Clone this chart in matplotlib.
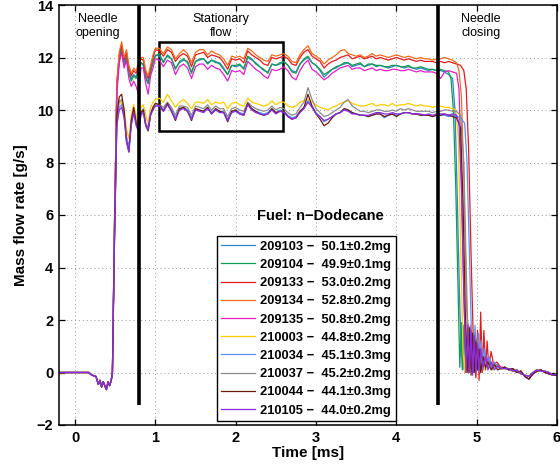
import matplotlib
matplotlib.use("Agg")
import matplotlib.pyplot as plt
from matplotlib.patches import Rectangle

plt.rcParams['font.family'] = ['Liberation Sans', 'DejaVu Sans']

# ---------------- data ----------------
labels = ["209103 \u2212  50.1\u00b10.2mg", "209104 \u2212  49.9\u00b10.1mg",
          "209133 \u2212  53.0\u00b10.2mg", "209134 \u2212  52.8\u00b10.2mg",
          "209135 \u2212  50.8\u00b10.2mg", "210003 \u2212  44.8\u00b10.2mg",
          "210034 \u2212  45.1\u00b10.3mg", "210037 \u2212  45.2\u00b10.2mg",
          "210044 \u2212  44.1\u00b10.3mg", "210105 \u2212  44.0\u00b10.2mg"]
colors = ['#2e86c1', '#0f9a55', '#e41a1c', '#f26b1d', '#e01fc9',
          '#ffcc00', '#5b8ff9', '#8c8c8c', '#6b1a0a', '#8a2be2']

# before needle opening (shared by all injections)
T_PRE = [-0.2, 0.17, 0.21, 0.26, 0.29, 0.31, 0.33, 0.35, 0.37, 0.39, 0.41, 0.43, 0.45]
V_PRE = [0.0, 0.0, -0.1, -0.15, -0.45, -0.3, -0.55, -0.35, -0.5, -0.65, -0.35, -0.5, -0.3]

# needle opening
T_RISE = [0.465, 0.49, 0.52, 0.55, 0.58, 0.61, 0.64, 0.67, 0.70, 0.73, 0.76, 0.79,
          0.82, 0.85, 0.88, 0.91, 0.94, 0.97]
R_209103 = [0.1, 5.4, 10.9, 11.95, 12.35, 11.75, 12.05, 11.45, 11.2, 11.35, 11.25, 11.55, 11.8, 11.7, 11.3, 11.05, 11.5, 11.8]
R_209104 = [0.0, 5.6, 10.8, 11.9, 12.3, 11.7, 12.0, 11.4, 11.1, 11.3, 11.2, 11.5, 11.8, 11.75, 11.2, 11.0, 11.45, 11.8]
R_209133 = [0.0, 5.3, 11.0, 12.1, 12.5, 11.9, 12.2, 11.6, 11.3, 11.5, 11.4, 11.7, 11.95, 11.9, 11.45, 11.2, 11.6, 12.0]
R_209134 = [0.0, 5.6, 11.1, 12.2, 12.6, 12.0, 12.3, 11.7, 11.4, 11.6, 11.5, 11.8, 12.0, 12.0, 11.5, 11.3, 11.7, 12.1]
R_209135 = [0.0, 5.2, 10.6, 11.8, 12.2, 11.6, 11.9, 11.2, 10.9, 11.1, 10.9, 10.6, 11.6, 11.6, 11.0, 10.6, 11.3, 11.6]
R_210003 = [0.0, 4.8, 9.7, 10.4, 10.2, 10.1, 9.3, 8.9, 9.8, 10.2, 9.8, 9.5, 10.1, 10.2, 9.8, 9.5, 10.1, 10.3]
R_210034 = [0.0, 5.1, 9.5, 10.1, 10.2, 9.8, 9.0, 8.6, 9.5, 9.95, 9.5, 9.25, 9.85, 9.95, 9.45, 9.3, 9.85, 10.05]
R_210037 = [-0.1, 5.2, 9.6, 10.3, 10.4, 9.9, 8.9, 8.5, 9.6, 10.0, 9.6, 9.3, 9.9, 10.05, 9.5, 9.35, 9.9, 10.1]
R_210044 = [0.0, 4.9, 9.8, 10.5, 10.6, 10.0, 8.8, 8.4, 9.6, 10.1, 9.5, 9.2, 9.9, 10.0, 9.4, 9.2, 9.8, 10.1]
R_210105 = [-0.1, 4.9, 9.4, 10.0, 10.1, 9.7, 8.8, 8.4, 9.4, 9.9, 9.4, 9.2, 9.8, 9.9, 9.4, 9.25, 9.8, 10.0]

# stationary flow, 1.00 ... 4.50 ms
T_STAT = [1.00, 1.05, 1.10, 1.15, 1.20, 1.25, 1.30, 1.35, 1.40, 1.45, 1.50, 1.55, 1.60, 1.65,
          1.70, 1.75, 1.80, 1.85, 1.90, 1.95, 2.00, 2.05, 2.10, 2.15, 2.20, 2.25, 2.30, 2.35,
          2.40, 2.45, 2.50, 2.55, 2.60, 2.65, 2.70, 2.75, 2.80, 2.85, 2.90, 2.95, 3.00, 3.05,
          3.10, 3.15, 3.20, 3.25, 3.30, 3.35, 3.40, 3.45, 3.50, 3.55, 3.60, 3.65, 3.70, 3.75,
          3.80, 3.85, 3.90, 3.95, 4.00, 4.05, 4.10, 4.15, 4.20, 4.25, 4.30, 4.35, 4.40, 4.45, 4.50]
S_209103 = [12.10, 12.05, 11.85, 12.05, 11.95, 11.60, 11.80, 11.90, 11.85, 11.45, 11.85, 11.90, 11.95, 11.80,
            11.90, 11.80, 11.80, 11.60, 11.35, 11.70, 11.65, 11.70, 11.60, 12.00, 11.90, 11.80, 11.65, 11.50,
            11.45, 11.75, 11.70, 11.75, 11.85, 11.70, 11.50, 11.45, 11.75, 11.90, 12.00, 11.80, 11.70, 11.50,
            11.25, 11.40, 11.55, 11.60, 11.70, 11.75, 11.80, 11.65, 11.70, 11.75, 11.65, 11.70, 11.75, 11.65,
            11.70, 11.65, 11.60, 11.65, 11.70, 11.65, 11.60, 11.65, 11.60, 11.55, 11.60, 11.55, 11.50, 11.55, 11.50]
S_209104 = [12.05, 12.15, 11.80, 12.10, 11.95, 11.55, 11.85, 11.95, 11.80, 11.40, 11.85, 11.95, 11.95, 11.75,
            11.90, 11.85, 11.75, 11.55, 11.35, 11.70, 11.70, 11.75, 11.55, 12.05, 11.95, 11.75, 11.65, 11.55,
            11.40, 11.75, 11.70, 11.80, 11.85, 11.70, 11.45, 11.40, 11.75, 11.95, 12.05, 11.80, 11.70, 11.55,
            11.35, 11.45, 11.55, 11.65, 11.70, 11.80, 11.80, 11.70, 11.75, 11.80, 11.65, 11.75, 11.75, 11.70,
            11.70, 11.65, 11.65, 11.70, 11.70, 11.65, 11.65, 11.70, 11.60, 11.60, 11.65, 11.60, 11.55, 11.55, 11.50]
S_209133 = [12.30, 12.25, 12.05, 12.30, 12.20, 11.85, 12.05, 12.15, 12.05, 11.65, 12.10, 12.15, 12.20, 12.00,
            12.10, 12.05, 12.00, 11.80, 11.55, 11.95, 11.90, 11.95, 11.80, 12.25, 12.10, 12.00, 11.90, 11.75,
            11.70, 12.00, 11.95, 12.00, 12.05, 11.95, 11.75, 11.70, 12.00, 12.20, 12.30, 12.05, 11.95, 11.85,
            11.60, 11.75, 11.85, 11.90, 12.00, 12.05, 12.10, 11.95, 12.00, 12.05, 11.95, 12.00, 12.05, 11.95,
            12.00, 11.95, 11.90, 11.95, 12.00, 11.95, 11.90, 11.95, 11.90, 11.85, 11.90, 11.85, 11.85, 11.85, 11.80]
S_209134 = [12.35, 12.35, 12.15, 12.40, 12.30, 11.95, 12.15, 12.30, 12.15, 11.80, 12.20, 12.30, 12.30, 12.10,
            12.25, 12.15, 12.10, 11.95, 11.70, 12.05, 12.00, 12.05, 11.95, 12.35, 12.25, 12.10, 12.00, 11.90,
            11.85, 12.10, 12.05, 12.10, 12.15, 12.05, 11.85, 11.80, 12.10, 12.30, 12.45, 12.15, 12.05, 11.95,
            11.75, 11.90, 12.00, 12.10, 12.25, 12.30, 12.15, 12.10, 12.05, 12.10, 12.00, 12.05, 12.15, 12.05,
            12.10, 12.05, 12.00, 12.05, 12.10, 12.05, 12.00, 12.05, 12.00, 11.95, 12.00, 11.95, 11.95, 11.90, 11.95]
S_209135 = [11.95, 11.90, 11.65, 11.90, 11.80, 11.35, 11.65, 11.75, 11.60, 11.20, 11.65, 11.75, 11.75, 11.55,
            11.70, 11.60, 11.55, 11.35, 11.10, 11.50, 11.45, 11.50, 11.35, 11.85, 11.70, 11.55, 11.45, 11.30,
            11.20, 11.55, 11.50, 11.55, 11.65, 11.50, 11.25, 11.15, 11.50, 11.75, 11.90, 11.55, 11.45, 11.30,
            11.15, 11.25, 11.40, 11.50, 11.60, 11.65, 11.70, 11.55, 11.60, 11.60, 11.50, 11.55, 11.60, 11.50,
            11.55, 11.50, 11.50, 11.55, 11.55, 11.50, 11.50, 11.55, 11.50, 11.45, 11.50, 11.45, 11.45, 11.45, 11.40]
S_210003 = [10.40, 10.45, 10.30, 10.60, 10.35, 10.10, 10.30, 10.40, 10.25, 10.05, 10.30, 10.30, 10.25, 10.40,
            10.20, 10.30, 10.25, 10.30, 10.05, 10.25, 10.30, 10.20, 10.15, 10.45, 10.30, 10.25, 10.20, 10.15,
            10.20, 10.35, 10.20, 10.30, 10.30, 10.15, 10.10, 10.15, 10.30, 10.35, 10.40, 10.30, 10.20, 10.10,
            10.05, 10.00, 10.10, 10.15, 10.25, 10.30, 10.35, 10.25, 10.20, 10.15, 10.15, 10.20, 10.25, 10.15,
            10.20, 10.20, 10.15, 10.25, 10.15, 10.20, 10.20, 10.25, 10.20, 10.15, 10.20, 10.15, 10.15, 10.10, 10.15]
S_210034 = [10.15, 10.20, 10.00, 10.25, 10.00, 9.70, 10.05, 10.10, 10.00, 9.70, 10.05, 10.00, 9.95, 10.10,
            9.90, 10.05, 9.95, 9.95, 9.65, 9.95, 10.00, 9.90, 9.85, 10.25, 10.05, 9.95, 9.90, 9.85,
            9.90, 10.05, 9.90, 10.00, 9.95, 9.80, 9.70, 9.75, 9.95, 10.10, 10.35, 10.15, 9.90, 9.75,
            9.55, 9.65, 9.75, 9.85, 9.90, 10.05, 10.00, 9.90, 9.85, 9.80, 9.80, 9.75, 9.80, 9.85,
            9.85, 9.70, 9.80, 9.85, 9.80, 9.85, 9.90, 9.90, 9.85, 9.85, 9.80, 9.80, 9.80, 9.75, 9.80]
S_210037 = [10.25, 10.20, 10.10, 10.30, 10.10, 9.80, 10.15, 10.15, 10.10, 9.80, 10.15, 10.10, 10.05, 10.20,
            10.00, 10.15, 10.05, 10.05, 9.75, 10.05, 10.10, 10.00, 9.95, 10.30, 10.15, 10.05, 10.00, 9.95,
            10.00, 10.15, 10.00, 10.10, 10.05, 9.90, 9.80, 9.85, 10.10, 10.30, 10.85, 10.40, 10.05, 9.90,
            9.75, 9.80, 9.90, 10.00, 10.10, 10.30, 10.40, 10.15, 10.05, 9.95, 9.95, 9.90, 9.95, 10.00,
            10.00, 9.95, 9.95, 10.00, 9.95, 10.05, 10.00, 10.05, 10.00, 9.95, 9.95, 9.95, 9.95, 9.90, 9.95]
S_210044 = [10.25, 10.20, 9.95, 10.25, 9.95, 9.60, 10.05, 10.10, 9.95, 9.60, 10.05, 10.00, 9.95, 10.10,
            9.85, 10.05, 9.95, 9.90, 9.55, 9.95, 10.00, 9.85, 9.80, 10.25, 10.05, 9.95, 9.85, 9.80,
            9.85, 10.05, 9.90, 9.95, 9.95, 9.75, 9.65, 9.70, 9.95, 10.10, 10.60, 10.15, 9.85, 9.65,
            9.40, 9.50, 9.70, 9.85, 9.90, 10.05, 10.00, 9.90, 9.85, 9.80, 9.80, 9.75, 9.80, 9.85,
            9.85, 9.75, 9.80, 9.85, 9.75, 9.85, 9.90, 9.90, 9.85, 9.85, 9.80, 9.80, 9.80, 9.75, 9.80]
S_210105 = [10.15, 10.15, 9.95, 10.20, 9.95, 9.65, 10.00, 10.05, 9.95, 9.65, 10.00, 9.95, 9.90, 10.05,
            9.85, 10.00, 9.90, 9.90, 9.60, 9.90, 9.95, 9.85, 9.80, 10.20, 10.00, 9.90, 9.85, 9.80,
            9.85, 10.00, 9.85, 9.95, 9.90, 9.75, 9.65, 9.70, 9.90, 10.05, 10.30, 10.10, 9.85, 9.75,
            9.60, 9.65, 9.75, 9.85, 9.90, 10.00, 9.95, 9.85, 9.85, 9.80, 9.80, 9.80, 9.85, 9.90,
            9.90, 9.85, 9.85, 9.90, 9.85, 9.85, 9.90, 9.90, 9.85, 9.85, 9.85, 9.80, 9.85, 9.80, 9.85]

# needle closing (own time base per injection)
CT_209103 = [4.55, 4.60, 4.65, 4.70, 4.73, 4.76, 4.79, 4.82, 4.84, 4.86, 4.88, 4.90, 4.92, 4.94, 4.96, 4.98, 5.00, 5.03, 5.06, 5.09, 5.12, 5.16, 5.20, 5.25, 5.30]
CV_209103 = [11.5, 11.45, 11.35, 11.2, 10.0, 6.5, 2.5, 0.1, 1.8, 0.0, 1.6, 0.2, 1.3, 0.1, 1.1, 0.3, 0.9, 0.2, 0.7, 0.2, 0.5, 0.3, 0.2, 0.3, 0.15]
CT_209104 = [4.55, 4.60, 4.65, 4.68, 4.71, 4.74, 4.77, 4.79, 4.81, 4.83, 4.85, 4.87, 4.89, 4.91, 4.93, 4.95, 4.97, 4.99, 5.02, 5.05, 5.08, 5.11, 5.15, 5.20, 5.25, 5.30]
CV_209104 = [11.55, 11.5, 11.45, 11.2, 10.0, 7.0, 3.0, 0.2, 1.9, 0.1, 1.8, 0.3, 1.5, 0.2, 1.2, 0.3, 0.9, 0.2, 0.7, 0.3, 0.5, 0.2, 0.4, 0.15, 0.25, 0.15]
CT_209133 = [4.55, 4.60, 4.65, 4.70, 4.75, 4.80, 4.84, 4.87, 4.90, 4.93, 4.96, 4.99, 5.01, 5.03, 5.05, 5.07, 5.09, 5.11, 5.13, 5.15, 5.18, 5.21, 5.25, 5.30]
CV_209133 = [11.85, 11.8, 11.85, 11.8, 11.75, 11.7, 11.5, 10.8, 8.5, 4.5, 1.0, -0.2, 1.6, -0.3, 2.3, 0.0, 1.6, 0.1, 1.2, 0.2, 0.8, 0.3, 0.4, 0.2]
CT_209134 = [4.55, 4.60, 4.65, 4.70, 4.75, 4.78, 4.81, 4.84, 4.87, 4.90, 4.92, 4.94, 4.96, 4.98, 5.00, 5.02, 5.04, 5.07, 5.10, 5.13, 5.16, 5.20, 5.25, 5.30]
CV_209134 = [11.95, 12.0, 11.95, 11.9, 11.8, 11.5, 10.5, 7.5, 3.0, 0.0, 1.8, 0.2, 1.6, 0.1, 1.3, 0.2, 1.0, 0.3, 0.7, 0.2, 0.5, 0.3, 0.2, 0.15]
CT_209135 = [4.55, 4.60, 4.65, 4.70, 4.75, 4.78, 4.81, 4.84, 4.87, 4.89, 4.91, 4.93, 4.95, 4.97, 4.99, 5.01, 5.03, 5.06, 5.09, 5.12, 5.16, 5.20, 5.25, 5.30]
CV_209135 = [11.2, 11.45, 11.5, 11.45, 11.4, 10.8, 7.5, 3.0, 0.0, 1.9, 0.1, 1.7, 0.2, 1.4, 0.1, 1.1, 0.2, 0.8, 0.2, 0.6, 0.3, 0.2, 0.3, 0.15]
CT_210003 = [4.55, 4.60, 4.65, 4.70, 4.74, 4.77, 4.80, 4.83, 4.85, 4.87, 4.89, 4.91, 4.93, 4.95, 4.97, 5.00, 5.03, 5.06, 5.09, 5.12, 5.16, 5.20, 5.25, 5.30]
CV_210003 = [10.15, 10.1, 10.1, 10.05, 10.0, 9.0, 5.0, 0.8, 0.0, 1.7, 0.1, 1.5, 0.2, 1.1, 0.1, 0.8, 0.2, 0.6, 0.1, 0.4, 0.2, 0.1, 0.25, 0.15]
CT_210034 = [4.55, 4.60, 4.65, 4.70, 4.75, 4.80, 4.85, 4.88, 4.91, 4.94, 4.96, 4.98, 5.00, 5.02, 5.04, 5.06, 5.08, 5.10, 5.13, 5.16, 5.19, 5.22, 5.26, 5.30]
CV_210034 = [9.8, 9.8, 9.75, 9.8, 9.75, 9.7, 9.5, 8.0, 4.5, 0.8, 0.0, 1.8, 0.1, 1.5, 0.0, 1.2, 0.1, 0.9, 0.2, 0.6, 0.1, 0.4, 0.2, 0.15]
CT_210037 = [4.55, 4.60, 4.65, 4.70, 4.75, 4.80, 4.84, 4.87, 4.90, 4.92, 4.94, 4.96, 4.98, 5.00, 5.02, 5.04, 5.07, 5.10, 5.13, 5.16, 5.20, 5.25, 5.30]
CV_210037 = [9.95, 10.0, 10.0, 9.95, 9.95, 9.8, 8.0, 4.0, 0.2, 1.7, 0.1, 1.5, 0.2, 1.2, 0.1, 0.9, 0.2, 0.6, 0.2, 0.4, 0.2, 0.3, 0.15]
CT_210044 = [4.55, 4.60, 4.65, 4.70, 4.75, 4.80, 4.83, 4.86, 4.89, 4.91, 4.93, 4.95, 4.97, 4.99, 5.01, 5.03, 5.05, 5.08, 5.11, 5.14, 5.18, 5.22, 5.26, 5.30]
CV_210044 = [9.8, 9.85, 9.8, 9.75, 9.7, 9.3, 6.5, 2.0, 0.0, 1.7, -0.1, 1.5, 0.0, 1.2, 0.1, 0.9, 0.0, 0.6, 0.2, 0.4, 0.1, 0.3, 0.1, 0.15]
CT_210105 = [4.55, 4.60, 4.65, 4.70, 4.75, 4.78, 4.81, 4.84, 4.87, 4.89, 4.91, 4.93, 4.95, 4.97, 4.99, 5.01, 5.03, 5.05, 5.08, 5.11, 5.14, 5.18, 5.22, 5.26, 5.30]
CV_210105 = [9.85, 9.85, 9.8, 9.85, 9.8, 9.5, 7.0, 3.0, 0.0, 1.8, 0.0, 1.6, -0.1, 1.4, 0.0, 1.1, 0.1, 0.9, 0.2, 0.6, 0.1, 0.4, 0.1, 0.25, 0.15]

# after closing
T_TAIL = [5.35, 5.40, 5.45, 5.50, 5.55, 5.60, 5.65, 5.70, 5.75, 5.80, 5.85, 5.90, 5.95, 6.00]
V_TAIL_A = [0.2, 0.1, 0.15, 0.0, 0.05, -0.15, -0.25, -0.05, 0.05, 0.1, 0.0, -0.05, -0.1, -0.1]
V_TAIL_B = [0.15, 0.15, 0.05, 0.1, -0.05, -0.1, -0.15, 0.0, 0.1, 0.05, 0.05, 0.0, -0.1, -0.05]

RISE = [R_209103, R_209104, R_209133, R_209134, R_209135, R_210003, R_210034, R_210037, R_210044, R_210105]
STAT = [S_209103, S_209104, S_209133, S_209134, S_209135, S_210003, S_210034, S_210037, S_210044, S_210105]
CT = [CT_209103, CT_209104, CT_209133, CT_209134, CT_209135, CT_210003, CT_210034, CT_210037, CT_210044, CT_210105]
CV = [CV_209103, CV_209104, CV_209133, CV_209134, CV_209135, CV_210003, CV_210034, CV_210037, CV_210044, CV_210105]
TAILS = [V_TAIL_A, V_TAIL_B, V_TAIL_A, V_TAIL_B, V_TAIL_A, V_TAIL_B, V_TAIL_A, V_TAIL_B, V_TAIL_A, V_TAIL_B]

# ---------------- figure ----------------
fig = plt.figure(figsize=(5.6, 4.74), dpi=100)
ax = fig.add_axes([59/560, 49/474, 498/560, 420/474])

for i in range(10):
    t = T_PRE + T_RISE + T_STAT + CT[i] + T_TAIL
    v = V_PRE + RISE[i] + STAT[i] + CV[i] + TAILS[i]
    ax.plot(t, v, color=colors[i], lw=0.9, label=labels[i])

ax.set_xlim(-0.2, 6)
ax.set_ylim(-2, 14)
ax.set_xticks(range(0, 7))
ax.set_yticks(range(-2, 15, 2))
ax.grid(True, color='#9a9a9a', linestyle=(0, (1, 3)), lw=0.7)
ax.tick_params(direction='in', top=True, right=True, length=4, width=0.9,
               labelsize=10.5, pad=4)
for lab in ax.get_xticklabels() + ax.get_yticklabels():
    lab.set_fontweight('bold')
for sp in ax.spines.values():
    sp.set_linewidth(1.1)

ax.set_xlabel('Time [ms]', fontsize=11, fontweight='bold', labelpad=1)
ax.set_ylabel('Mass flow rate [g/s]', fontsize=11, fontweight='bold', labelpad=6)

# phase markers
ax.plot([0.8, 0.8], [-1.24, 14], color='black', lw=2.6, solid_capstyle='butt')
ax.plot([4.52, 4.52], [-1.24, 14], color='black', lw=2.6, solid_capstyle='butt')
ax.add_patch(Rectangle((1.04, 9.2), 1.55, 3.4, fill=False, edgecolor='black', lw=1.8))
ax.text(0.28, 13.2, 'Needle\nopening', ha='center', va='center', fontsize=9, linespacing=1.15)
ax.text(1.81, 13.2, 'Stationary\nflow', ha='center', va='center', fontsize=9, linespacing=1.15)
ax.text(5.05, 13.2, 'Needle\nclosing', ha='center', va='center', fontsize=9, linespacing=1.15)

ax.text(3.05, 5.96, 'Fuel: n\u2212Dodecane', ha='center', va='center', fontsize=10.5, fontweight='bold')

leg = ax.legend(loc='upper left', bbox_to_anchor=(0.317, 0.45), borderaxespad=0,
                prop={'size': 9.3, 'weight': 'bold'}, handlelength=2.6, handletextpad=0.4,
                labelspacing=0.48, borderpad=0.35, fancybox=False, framealpha=1)
leg.get_frame().set_edgecolor('black')
leg.get_frame().set_linewidth(1.0)

fig.savefig('out.png', dpi=100)
